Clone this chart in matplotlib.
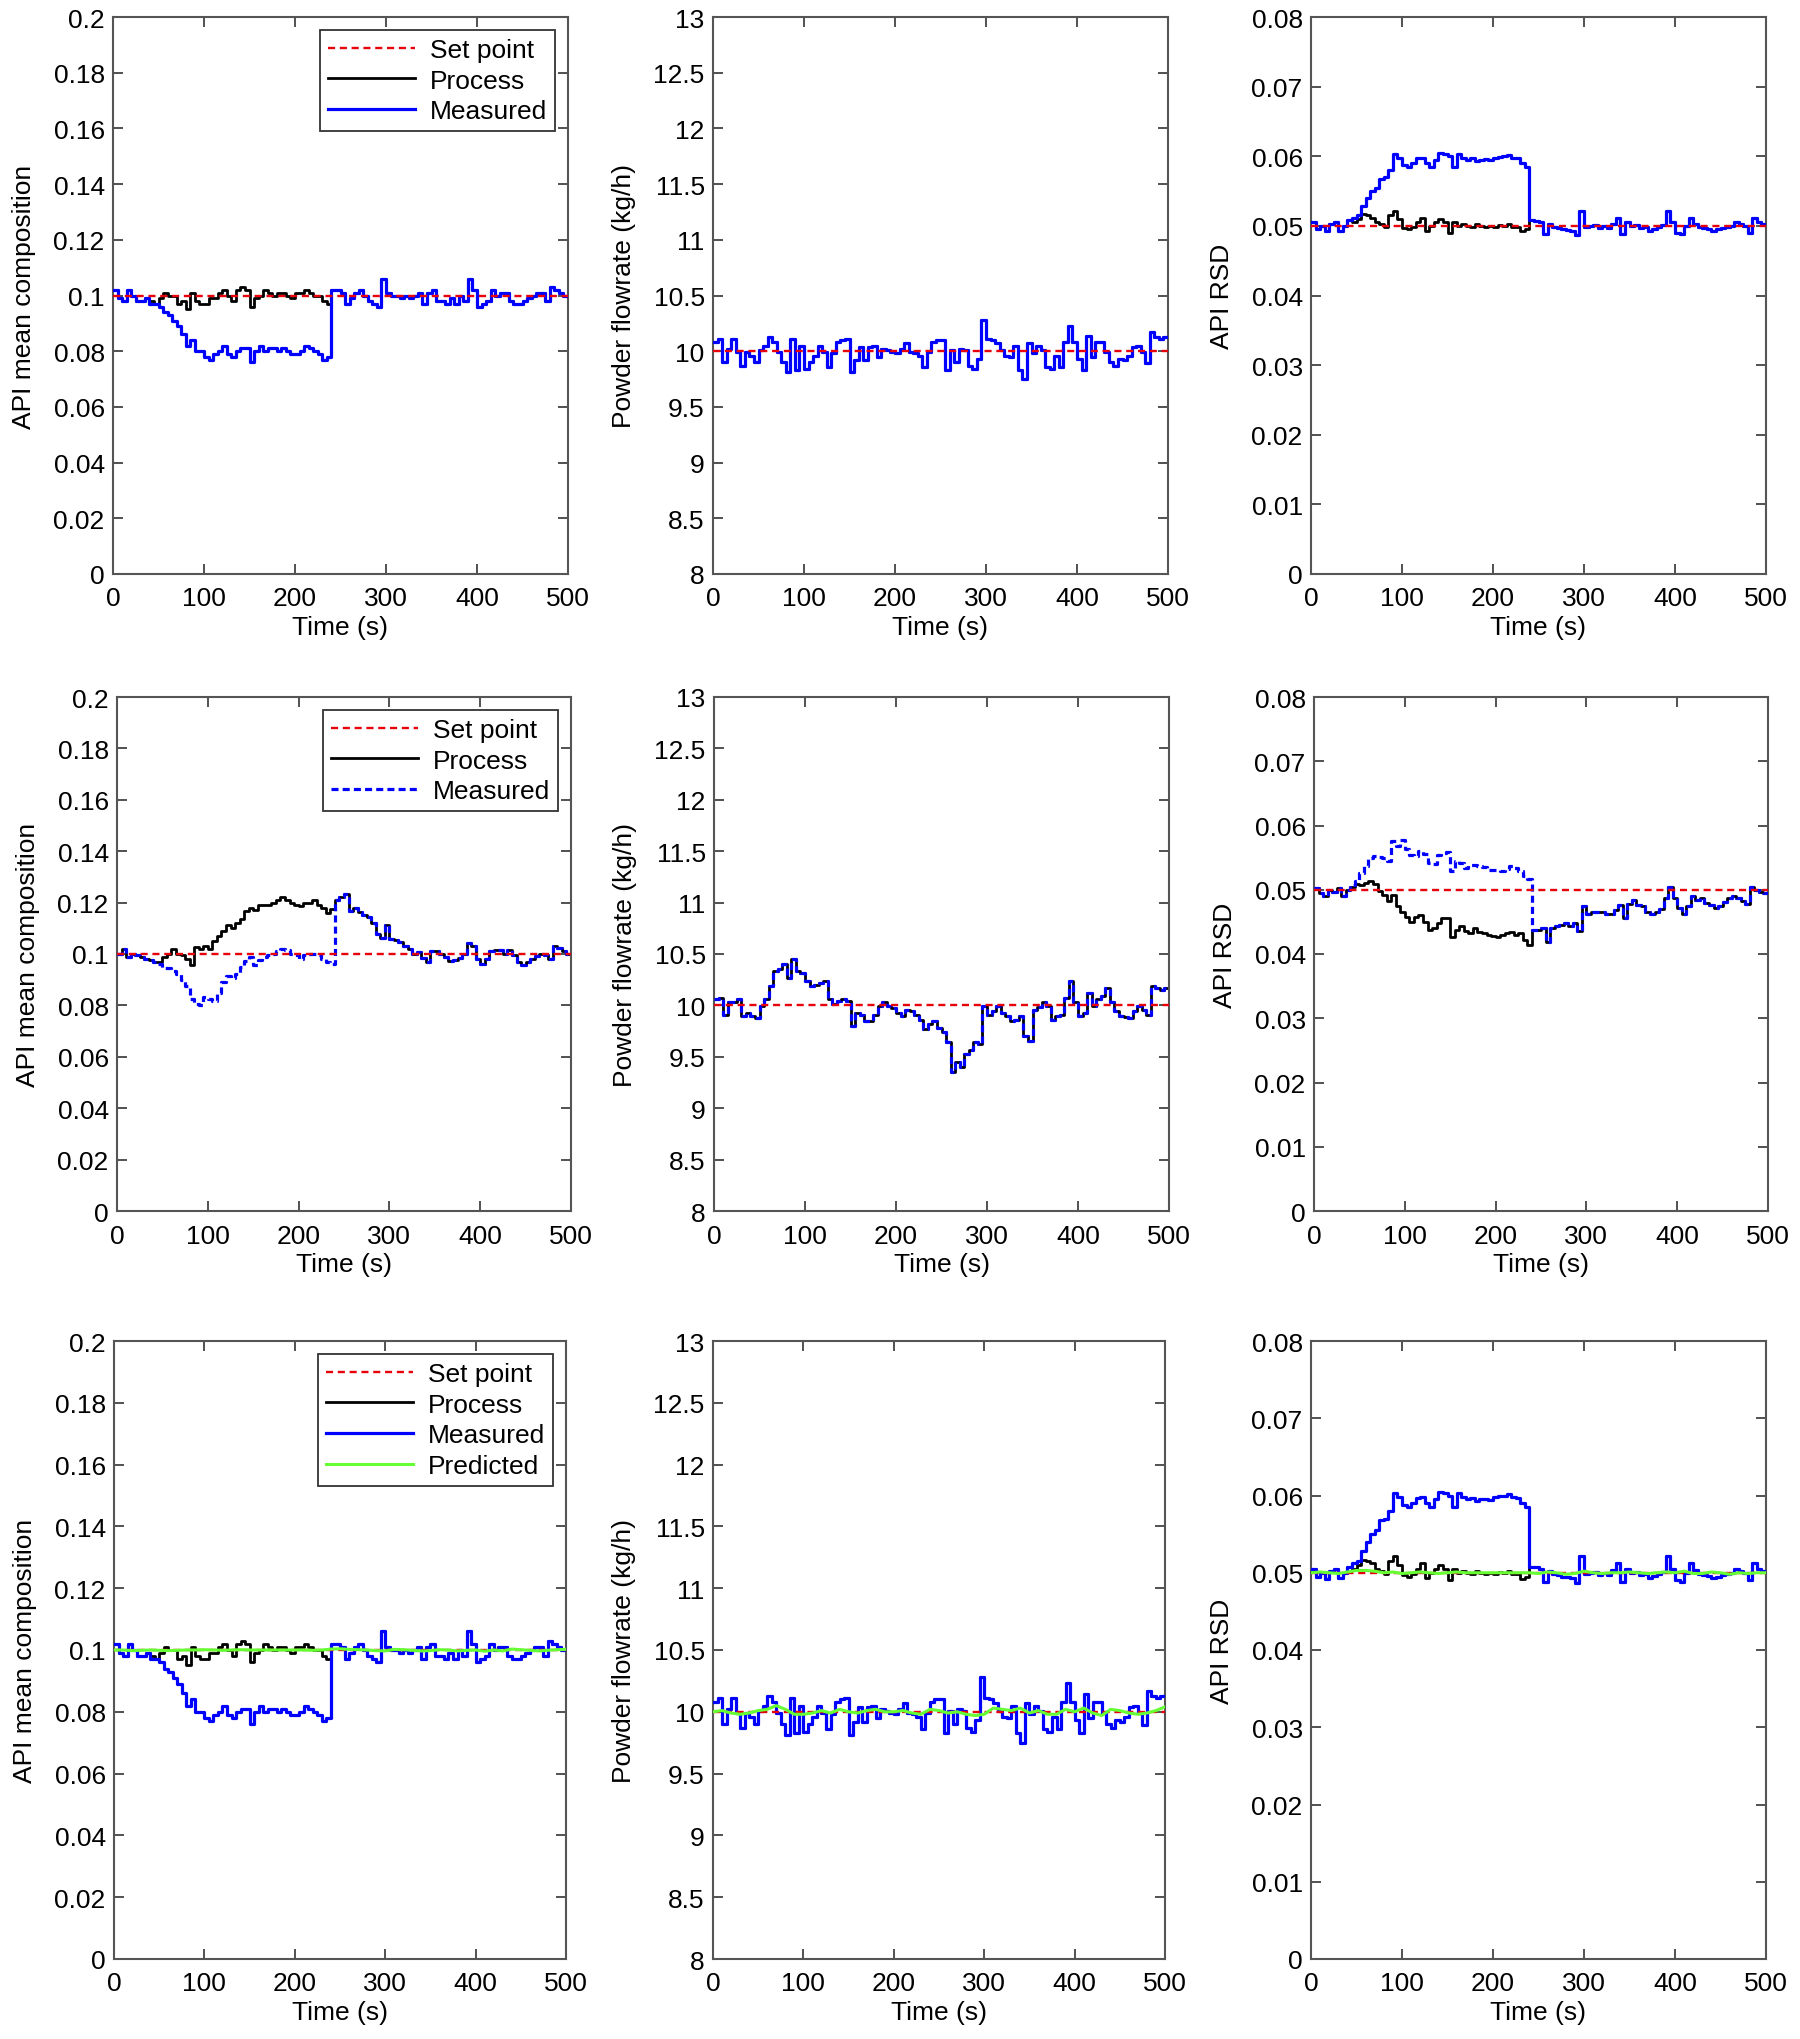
import numpy as np
import matplotlib
matplotlib.use("Agg")
import matplotlib.pyplot as plt
from matplotlib.ticker import FuncFormatter

plt.rcParams['font.family'] = ['Liberation Sans', 'DejaVu Sans']

# time grid: one value per 5 s, step plot
t = np.arange(0, 500, 5)
t_pred = np.arange(0, 501, 10)

# ---- row 1 / row 3 data (same run) ----
comp_meas = [0.102,0.099,0.098,0.102,0.100,0.098,0.098,0.099,0.097,0.097,
             0.096,0.094,0.093,0.091,0.089,0.086,0.082,0.084,0.080,0.080,
             0.078,0.077,0.079,0.080,0.082,0.079,0.078,0.080,0.081,0.081,
             0.076,0.080,0.082,0.080,0.081,0.081,0.080,0.081,0.080,0.079,
             0.079,0.080,0.082,0.081,0.080,0.079,0.077,0.078,0.102,0.102,
             0.101,0.097,0.099,0.101,0.102,0.100,0.098,0.097,0.096,0.106,
             0.101,0.100,0.100,0.099,0.100,0.099,0.100,0.101,0.097,0.101,
             0.102,0.098,0.098,0.097,0.099,0.097,0.100,0.098,0.106,0.102,
             0.096,0.097,0.098,0.102,0.100,0.101,0.101,0.098,0.097,0.097,
             0.098,0.099,0.100,0.101,0.101,0.098,0.103,0.102,0.101,0.100]
comp_proc_pre = [0.102,0.099,0.098,0.102,0.100,0.098,0.098,0.099,0.098,0.097,
                 0.099,0.101,0.100,0.100,0.097,0.098,0.095,0.101,0.098,0.097,
                 0.097,0.099,0.099,0.101,0.102,0.100,0.098,0.102,0.103,0.102,
                 0.096,0.099,0.100,0.102,0.101,0.100,0.101,0.101,0.100,0.099,
                 0.101,0.101,0.102,0.101,0.100,0.100,0.098,0.097]
comp_proc = comp_proc_pre + comp_meas[48:]

flow = [10.08,10.11,9.90,10.02,10.11,9.99,9.87,9.99,9.96,9.90,
        10.01,10.05,10.13,10.08,9.99,9.90,9.81,10.11,9.83,10.05,
        9.84,9.90,9.96,10.05,9.99,9.86,9.98,10.08,10.10,10.11,
        9.81,9.92,10.04,9.92,10.04,10.05,9.95,10.02,10.01,9.99,
        9.98,10.02,10.07,9.99,9.98,9.96,9.86,9.99,10.08,10.10,
        10.10,9.83,10.01,9.90,10.02,10.01,9.87,9.84,9.93,10.28,
        10.11,10.10,10.07,10.01,9.96,9.95,10.05,9.83,9.75,10.07,
        9.98,10.05,10.01,9.86,9.84,9.96,9.86,10.08,10.23,10.08,
        9.93,9.83,10.14,9.95,10.08,10.08,9.99,9.90,9.87,9.93,
        9.92,9.96,10.04,10.05,9.99,9.89,10.17,10.13,10.11,10.13]

rsd_meas = [0.0505,0.0495,0.0500,0.0492,0.0502,0.0505,0.0493,0.0500,0.0508,0.0512,
            0.0515,0.0528,0.0540,0.0550,0.0555,0.0568,0.0570,0.0580,0.0603,0.0598,
            0.0588,0.0585,0.0590,0.0597,0.0598,0.0590,0.0585,0.0595,0.0604,0.0603,
            0.0600,0.0585,0.0603,0.0598,0.0595,0.0597,0.0593,0.0595,0.0596,0.0594,
            0.0598,0.0599,0.0600,0.0602,0.0598,0.0597,0.0590,0.0585,0.0508,0.0507,
            0.0505,0.0488,0.0502,0.0498,0.0497,0.0495,0.0494,0.0493,0.0487,0.0522,
            0.0498,0.0500,0.0501,0.0497,0.0500,0.0497,0.0503,0.0512,0.0488,0.0505,
            0.0500,0.0501,0.0497,0.0499,0.0493,0.0496,0.0499,0.0501,0.0522,0.0505,
            0.0490,0.0488,0.0500,0.0512,0.0503,0.0499,0.0497,0.0496,0.0493,0.0495,
            0.0497,0.0498,0.0500,0.0505,0.0502,0.0500,0.0490,0.0512,0.0505,0.0502]
rsd_proc_pre = [0.0505,0.0495,0.0500,0.0492,0.0502,0.0505,0.0493,0.0500,0.0508,0.0505,
                0.0510,0.0517,0.0515,0.0512,0.0505,0.0502,0.0498,0.0515,0.0522,0.0510,
                0.0497,0.0495,0.0498,0.0505,0.0512,0.0493,0.0500,0.0505,0.0510,0.0505,
                0.0490,0.0505,0.0500,0.0502,0.0500,0.0499,0.0502,0.0500,0.0498,0.0500,
                0.0499,0.0501,0.0500,0.0502,0.0499,0.0498,0.0492,0.0495]
rsd_proc = rsd_proc_pre + rsd_meas[48:]

# ---- row 2 data ----
comp2_meas_pre = [0.100,0.102,0.099,0.100,0.0996,0.099,0.098,0.0976,0.097,0.096,
                  0.0945,0.0944,0.0935,0.0923,0.090,0.0875,0.0826,0.0806,0.080,0.0832,
                  0.0826,0.0819,0.085,0.089,0.0915,0.0907,0.0924,0.095,0.0972,0.099,
                  0.0957,0.0976,0.099,0.0996,0.100,0.101,0.102,0.1016,0.100,0.0996,
                  0.098,0.0996,0.100,0.100,0.0996,0.098,0.097,0.0963]
comp2_proc_pre = [0.100,0.102,0.099,0.100,0.0996,0.099,0.098,0.0976,0.097,0.0967,
                  0.099,0.100,0.102,0.100,0.0996,0.098,0.0957,0.1029,0.102,0.103,
                  0.102,0.1049,0.107,0.109,0.1114,0.110,0.112,0.1138,0.1167,0.118,
                  0.117,0.119,0.119,0.119,0.120,0.121,0.122,0.121,0.120,0.119,
                  0.1186,0.120,0.120,0.121,0.119,0.118,0.116,0.1175]
comp2_post = [0.1212,0.122,0.1232,0.1167,0.118,0.1164,0.115,0.1143,0.112,0.1077,
              0.1064,0.1114,0.106,0.1055,0.1045,0.1033,0.102,0.100,0.1007,0.0986,
              0.0967,0.101,0.101,0.100,0.099,0.0972,0.0976,0.0986,0.100,0.1042,
              0.103,0.098,0.096,0.098,0.101,0.1016,0.1016,0.100,0.1016,0.0996,
              0.097,0.0957,0.0967,0.098,0.0993,0.100,0.0996,0.098,0.1033,0.1025,
              0.101,0.100]
comp2_meas = comp2_meas_pre + comp2_post
comp2_proc = comp2_proc_pre + comp2_post

flow2 = [10.06,10.07,9.91,10.03,10.03,10.06,9.90,9.93,9.90,9.88,
         9.99,10.06,10.19,10.33,10.35,10.40,10.27,10.45,10.33,10.32,
         10.24,10.19,10.20,10.22,10.24,10.06,10.01,10.04,10.06,10.04,
         9.80,9.93,9.91,9.85,9.85,9.91,9.99,10.03,9.99,9.97,
         9.93,9.90,9.96,9.95,9.91,9.86,9.77,9.82,9.85,9.78,
         9.74,9.64,9.35,9.45,9.40,9.53,9.57,9.64,9.62,9.99,
         9.91,9.95,9.99,9.93,9.90,9.85,9.86,9.90,9.70,9.65,
         9.96,9.98,10.03,9.99,9.86,9.90,9.91,10.07,10.24,10.03,
         9.90,9.93,10.12,9.99,10.06,10.09,10.17,10.03,9.95,9.90,
         9.89,9.88,9.95,9.99,9.96,9.91,10.19,10.17,10.15,10.17]

rsd2_meas_pre = [0.0503,0.0495,0.0490,0.0500,0.0497,0.0503,0.0490,0.0500,0.0507,0.0513,
                 0.0526,0.0537,0.0549,0.0552,0.0551,0.0550,0.0544,0.0576,0.0568,0.0578,
                 0.0563,0.0554,0.0552,0.0560,0.0556,0.0542,0.0540,0.0554,0.0557,0.0559,
                 0.0529,0.0544,0.0542,0.0534,0.0539,0.0538,0.0537,0.0535,0.0531,0.0530,
                 0.0531,0.0529,0.0533,0.0537,0.0534,0.0529,0.0521,0.0516]
rsd2_proc_pre = [0.0503,0.0495,0.0490,0.0500,0.0497,0.0503,0.0490,0.0500,0.0505,0.0509,
                 0.0507,0.0510,0.0513,0.0509,0.0498,0.0492,0.0482,0.0492,0.0474,0.0466,
                 0.0458,0.0450,0.0457,0.0461,0.0450,0.0437,0.0440,0.0448,0.0456,0.0456,
                 0.0427,0.0437,0.0443,0.0436,0.0432,0.0441,0.0435,0.0432,0.0430,0.0428,
                 0.0427,0.0430,0.0433,0.0435,0.0430,0.0432,0.0422,0.0414]
rsd2_post = [0.0437,0.0437,0.0440,0.0419,0.0441,0.0443,0.0445,0.0448,0.0443,0.0449,
             0.0436,0.0474,0.0463,0.0466,0.0465,0.0466,0.0463,0.0463,0.0469,0.0477,
             0.0456,0.0478,0.0484,0.0477,0.0474,0.0466,0.0463,0.0465,0.0470,0.0487,
             0.0505,0.0487,0.0471,0.0463,0.0474,0.0490,0.0484,0.0487,0.0479,0.0477,
             0.0471,0.0475,0.0481,0.0487,0.0490,0.0487,0.0483,0.0478,0.0504,0.0500,
             0.0496,0.0495]
rsd2_meas = rsd2_meas_pre + rsd2_post
rsd2_proc = rsd2_proc_pre + rsd2_post

# ---- row 3 predicted (every 10 s) ----
comp_pred = [0.1,0.1,0.0998,0.0999,0.1,0.0999,0.0998,0.0999,0.1,0.1,
             0.1001,0.1,0.0999,0.1,0.1001,0.1,0.1,0.1,0.1,0.1,
             0.1,0.1,0.0999,0.1,0.1003,0.1004,0.1002,0.1001,0.1,0.0998,
             0.0997,0.1002,0.1001,0.0999,0.0997,0.0998,0.1001,0.1,0.0997,0.0999,
             0.1,0.0996,0.1,0.0997,0.1003,0.1001,0.0999,0.0997,0.0999,0.1001,0.1002]
flow_pred = [10.0,10.01,9.99,9.98,9.99,10.01,10.02,10.05,10.02,9.98,
             9.98,9.99,10.01,9.99,10.02,10.0,9.99,10.01,10.02,10.0,
             10.0,10.01,9.99,9.98,10.02,10.01,9.99,10.0,9.98,9.97,
             9.98,10.03,10.02,10.01,10.03,9.99,10.01,9.98,9.98,10.02,
             10.0,10.03,9.99,9.97,10.02,10.01,9.99,9.98,9.99,10.01,10.04]
rsd_pred = [0.05,0.0501,0.05,0.0499,0.0501,0.0503,0.0503,0.0502,0.05,0.0501,
            0.0499,0.0500,0.0501,0.0500,0.0499,0.0500,0.0501,0.0500,0.0500,0.0500,
            0.0500,0.0500,0.0500,0.0500,0.0500,0.0499,0.0501,0.0500,0.0498,0.0499,
            0.0502,0.0500,0.0499,0.0500,0.0500,0.0501,0.0500,0.0499,0.0500,0.0501,
            0.0500,0.0502,0.0499,0.0499,0.0501,0.0500,0.0498,0.0500,0.0499,0.0500,0.0500]

setpoints = [0.1, 10.0, 0.05]
ylabels = ["API mean composition", "Powder flowrate (kg/h)", "API RSD"]
ylims = [(0, 0.2), (8, 13), (0, 0.08)]
ysteps = [0.02, 0.5, 0.01]

BLUE = "#0000ff"
RED = "#e8000b"
GREEN = "#66ff33"
FS = 19

# axes boxes in pixels (left, right, top, bottom) on a 1800x2040 canvas
rows_px = [(18, 575), (698, 1212), (1342, 1960)]
cols_px = [[(113, 568), (713, 1168), (1311, 1766)],
           [(117, 571), (714, 1169), (1314, 1768)],
           [(114, 566), (713, 1165), (1311, 1766)]]

fig = plt.figure(figsize=(18, 20.4), dpi=100)


def stairs(ax, y, **kw):
    y = np.asarray(y)
    return ax.step(np.append(t, 500), np.append(y, y[-1]), where="post", **kw)[0]


data = [
    [(comp_proc, comp_meas, None), (flow, flow, None), (rsd_proc, rsd_meas, None)],
    [(comp2_proc, comp2_meas, None), (flow2, flow2, None), (rsd2_proc, rsd2_meas, None)],
    [(comp_proc, comp_meas, comp_pred), (flow, flow, flow_pred), (rsd_proc, rsd_meas, rsd_pred)],
]

for r in range(3):
    top, bot = rows_px[r]
    for c in range(3):
        left, right = cols_px[r][c]
        ax = fig.add_axes([left / 1800, 1 - bot / 2040, (right - left) / 1800, (bot - top) / 2040])
        proc, meas, pred = data[r][c]
        h_proc = stairs(ax, proc, color="black", lw=2.0, zorder=2)
        if r == 1:
            h_meas = stairs(ax, meas, color=BLUE, lw=2.3, ls="--", dashes=(2.2, 1.3), zorder=3)
        else:
            h_meas = stairs(ax, meas, color=BLUE, lw=2.3, zorder=3)
        h_sp = ax.axhline(setpoints[c], color=RED, ls="--", lw=1.7, dashes=(3, 2), zorder=4)
        handles = [h_sp, h_proc, h_meas]
        labels = ["Set point", "Process", "Measured"]
        if pred is not None:
            h_pred, = ax.plot(t_pred, pred, color=GREEN, lw=2.2, zorder=5)
            handles.append(h_pred)
            labels.append("Predicted")

        ax.set_xlim(0, 500)
        ax.set_ylim(*ylims[c])
        ax.set_xticks(np.arange(0, 501, 100))
        ax.set_yticks(np.arange(ylims[c][0], ylims[c][1] + 1e-9, ysteps[c]))
        ax.yaxis.set_major_formatter(FuncFormatter(lambda v, p: "%g" % round(v, 4)))
        ax.tick_params(direction="in", top=True, right=True, length=7, width=1.2,
                       labelsize=FS, colors="#333333", labelcolor="black")
        ax.tick_params(axis="x", pad=9)
        ax.tick_params(axis="y", pad=6)
        for s in ax.spines.values():
            s.set_color("#555555")
            s.set_linewidth(1.5)
        ax.set_xlabel("Time (s)", fontsize=FS, labelpad=3)
        ax.set_ylabel(ylabels[c], fontsize=FS)
        ax.yaxis.set_label_coords(-0.17, 0.5)

        if c == 0:
            leg = ax.legend(handles, labels, loc="upper right", fontsize=FS, fancybox=False,
                            framealpha=1, edgecolor="#333333", handlelength=3.3,
                            handletextpad=0.55, labelspacing=0.25, borderpad=0.3,
                            borderaxespad=0.5)
            leg.get_frame().set_linewidth(1.3)

fig.savefig("out.png", dpi=100)
plt.close()
